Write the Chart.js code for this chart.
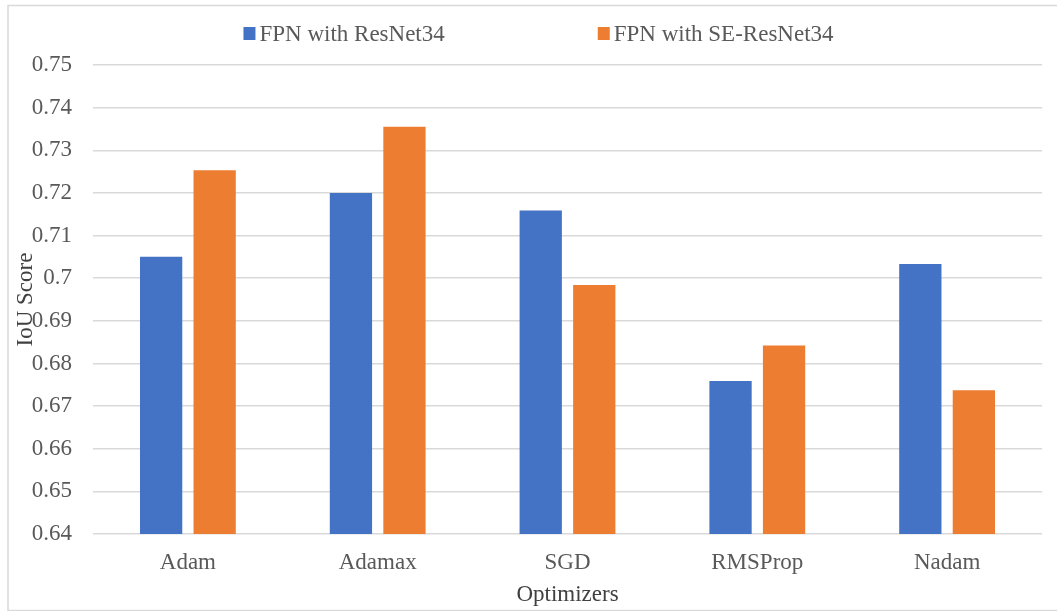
<!DOCTYPE html>
<html>
<head>
<meta charset="utf-8">
<script src="https://cdn.jsdelivr.net/npm/chart.js@4/dist/chart.umd.min.js"></script>
<style>
  html, body { margin: 0; padding: 0; background: #ffffff; }
  #wrap { width: 1057px; height: 611px; position: relative; }
</style>
</head>
<body>
<div id="wrap"><canvas id="chart" width="1057" height="611"></canvas></div>
<script>
// Optimizer comparison: IoU score per optimizer for two FPN backbones
const optimizers = ['Adam', 'Adamax', 'SGD', 'RMSProp', 'Nadam'];
const seriesNames = ['FPN with ResNet34', 'FPN with SE-ResNet34'];
const resnet34 = [0.7050, 0.7200, 0.7159, 0.6759, 0.7033];
const seResnet34 = [0.7253, 0.7355, 0.6984, 0.6842, 0.6737];
const seriesColors = ['#4472C4', '#ED7D31'];
const yMin = 0.64, yMax = 0.75, yStep = 0.01;
const xTitle = 'Optimizers';
const yTitle = 'IoU Score';

const FONT = '"Liberation Serif", "Times New Roman", serif';
const TICK_COLOR = '#595959';
const TITLE_COLOR = '#404040';
const GRID_COLOR = '#d9d9d9';

// Outer frame, top legend and rotated y title
const decorations = {
  id: 'decorations',
  beforeDraw(chart) {
    const ctx = chart.ctx;
    ctx.save();
    ctx.strokeStyle = GRID_COLOR;
    ctx.lineWidth = 1.5;
    ctx.strokeRect(8, 5.5, chart.width + 10, chart.height - 6);
    ctx.restore();
  },
  afterDraw(chart) {
    const ctx = chart.ctx;
    const area = chart.chartArea;
    ctx.save();
    // legend
    ctx.font = '23px ' + FONT;
    ctx.textBaseline = 'alphabetic';
    const box = 12, textGap = 4, itemGap = 153;
    const items = chart.data.datasets.map(ds => ({
      label: ds.label, color: ds.backgroundColor,
      w: box + textGap + ctx.measureText(ds.label).width
    }));
    const total = items.reduce((s, it) => s + it.w, 0) + itemGap * (items.length - 1);
    let x = chart.width / 2 + 10 - total / 2;
    const baseline = 41;
    items.forEach(it => {
      ctx.fillStyle = it.color;
      ctx.fillRect(x, baseline - 14, box, box + 1);
      ctx.fillStyle = TICK_COLOR;
      ctx.fillText(it.label, x + box + textGap, baseline);
      x += it.w + itemGap;
    });
    // y axis title
    ctx.translate(area.left - 67, (area.top + area.bottom) / 2);
    ctx.rotate(-Math.PI / 2);
    ctx.textAlign = 'center';
    ctx.textBaseline = 'middle';
    ctx.fillStyle = TITLE_COLOR;
    ctx.font = '23px ' + FONT;
    ctx.fillText(yTitle, 0, 0);
    ctx.restore();
  }
};

new Chart(document.getElementById('chart'), {
  type: 'bar',
  data: {
    labels: optimizers,
    datasets: [
      { label: seriesNames[0], data: resnet34, backgroundColor: seriesColors[0] },
      { label: seriesNames[1], data: seResnet34, backgroundColor: seriesColors[1] }
    ]
  },
  options: {
    responsive: false,
    animation: false,
    devicePixelRatio: 1,
    datasets: { bar: { categoryPercentage: 0.564, barPercentage: 0.79 } },
    layout: { padding: { top: 65, right: 15, bottom: 0, left: 0 } },
    plugins: {
      legend: { display: false },
      tooltip: { enabled: false }
    },
    scales: {
      x: {
        grid: { display: false, drawTicks: false },
        border: { display: false },
        ticks: { color: TICK_COLOR, font: { family: FONT, size: 23 }, padding: 15 },
        title: { display: true, text: xTitle, color: TITLE_COLOR,
                 font: { family: FONT, size: 23 }, padding: { top: 4, bottom: 2 } },
        afterFit(scale) { scale.height = 77; }
      },
      y: {
        min: yMin, max: yMax,
        grid: { color: GRID_COLOR, lineWidth: 1.5, drawTicks: false },
        border: { display: false },
        ticks: {
          stepSize: yStep, padding: 21, color: TICK_COLOR,
          font: { family: FONT, size: 23 },
          callback: v => String(+v.toFixed(2))
        },
        afterFit(scale) { scale.width = 93; }
      }
    }
  },
  plugins: [decorations]
});
</script>
</body>
</html>
